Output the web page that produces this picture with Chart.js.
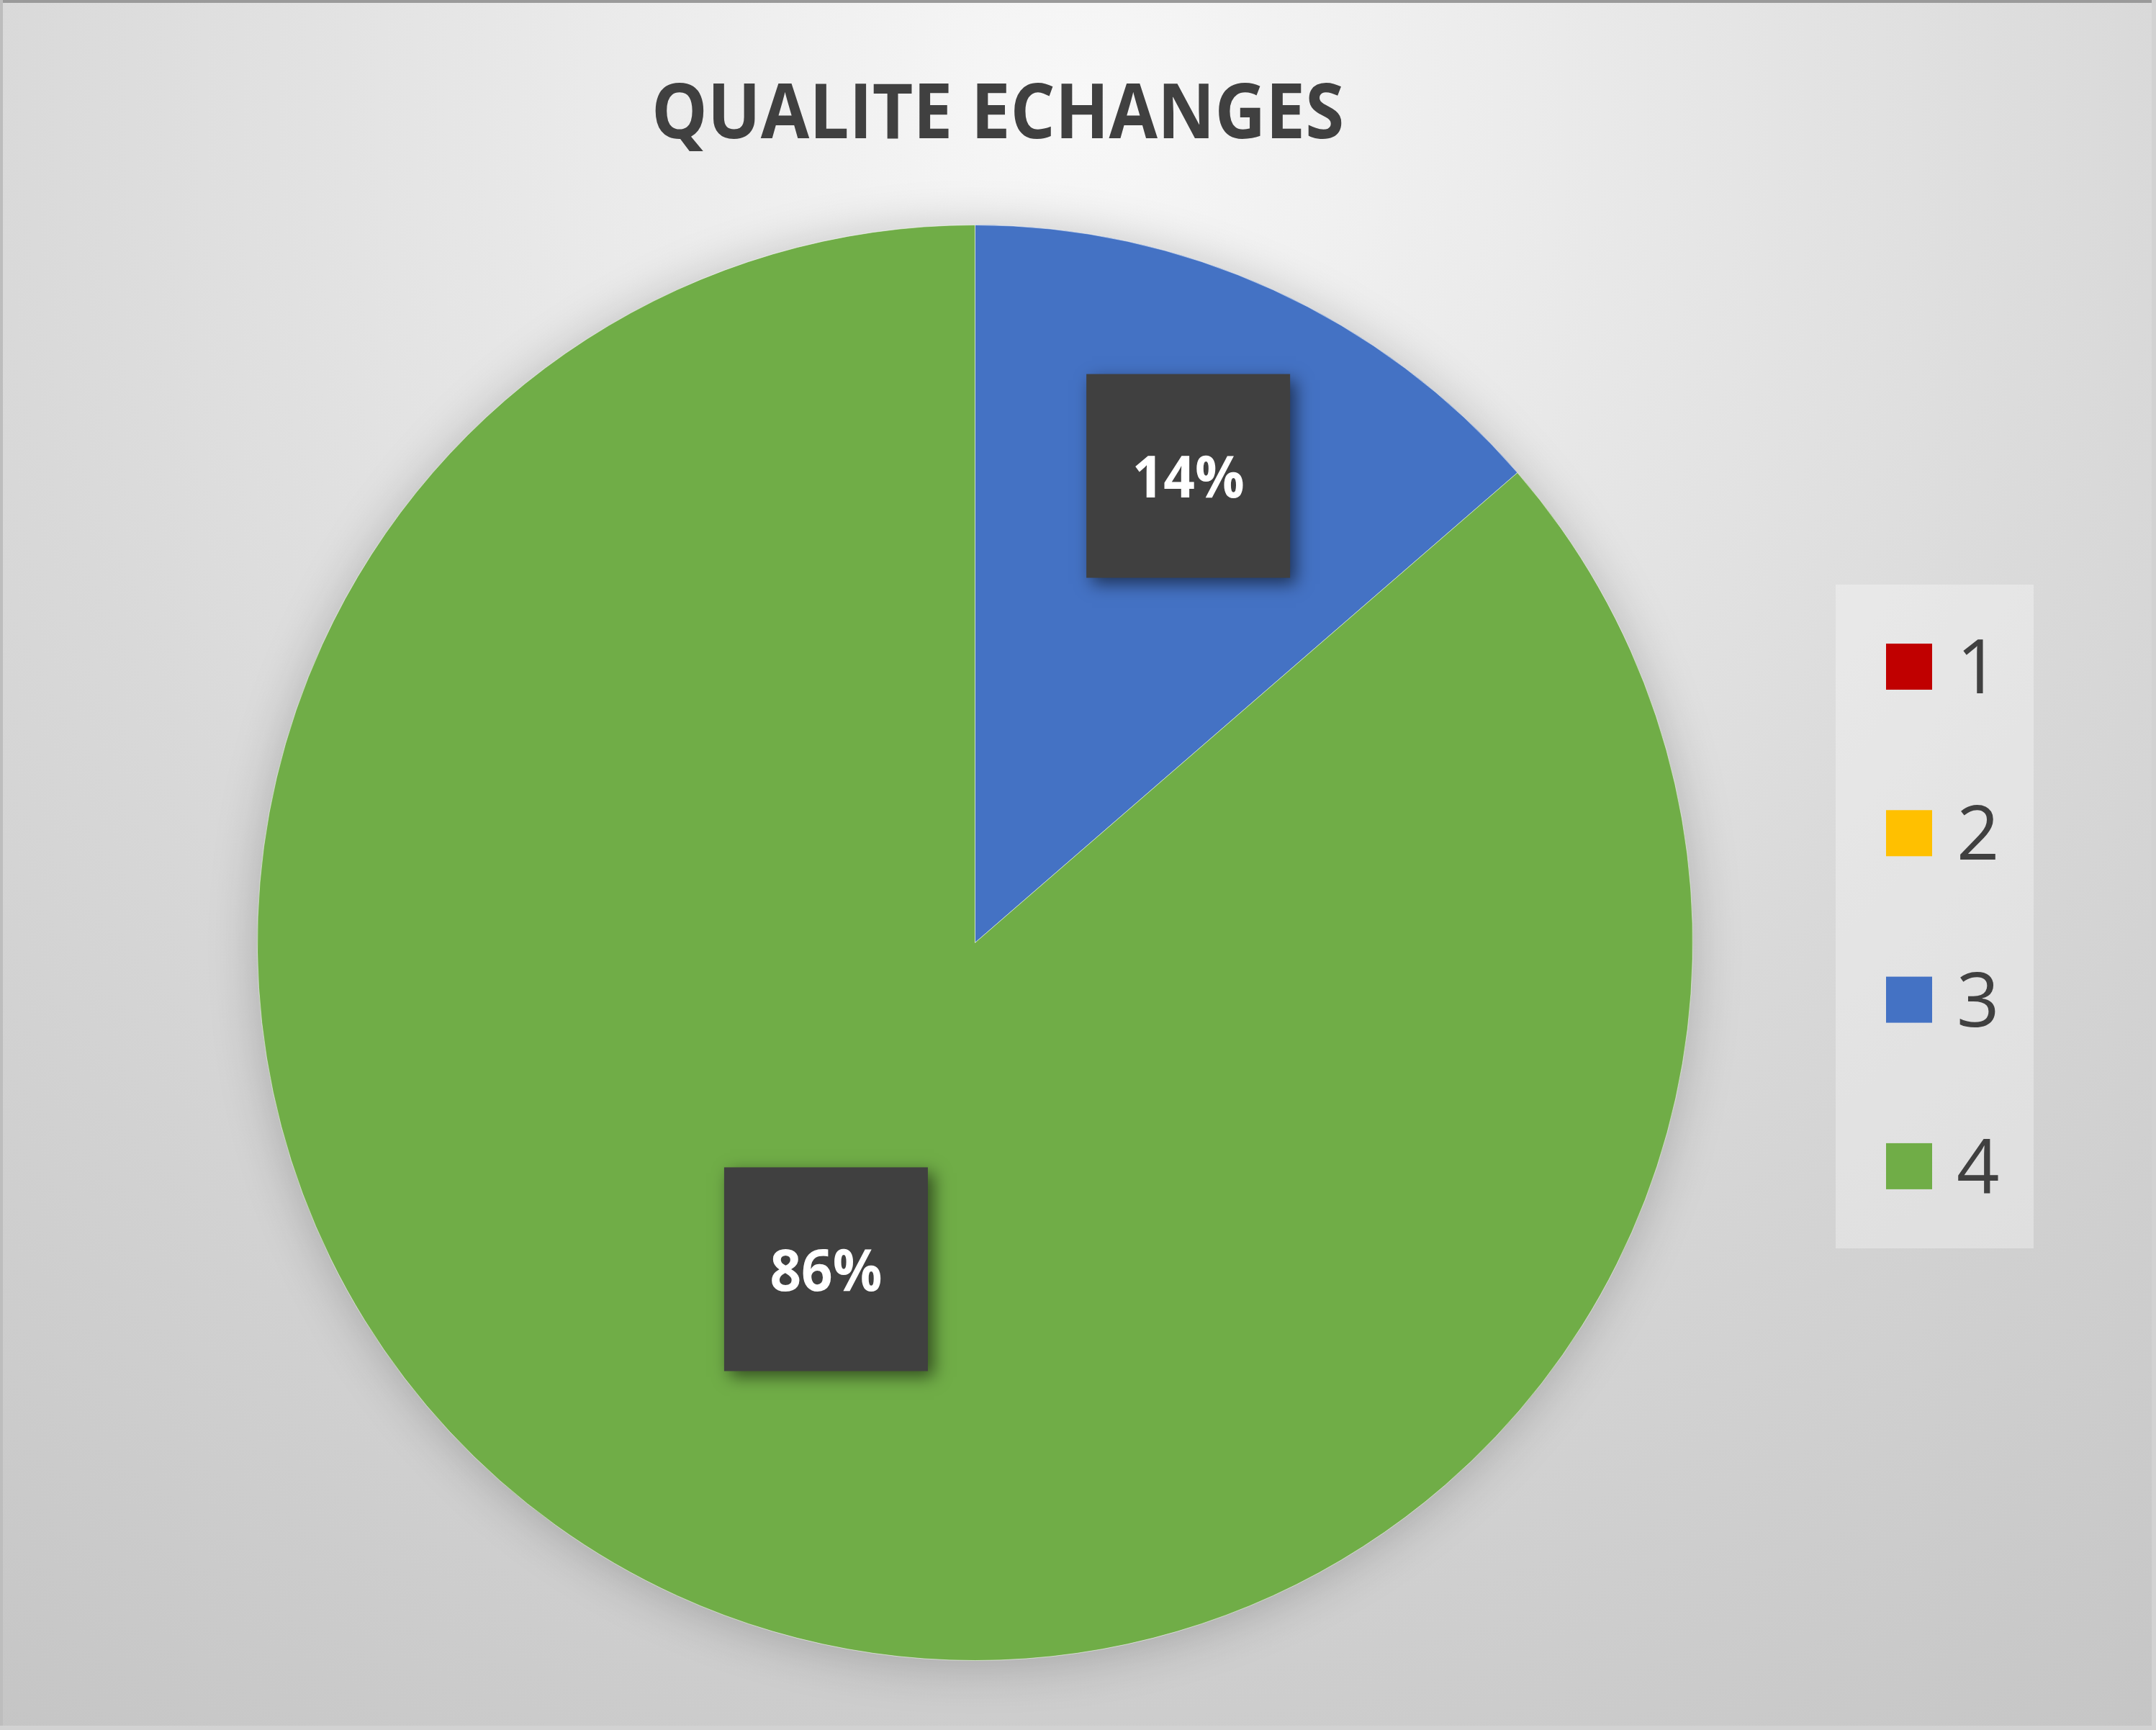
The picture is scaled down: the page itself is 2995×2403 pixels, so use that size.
<!DOCTYPE html>
<html>
<head>
<meta charset="utf-8">
<script src="https://cdn.jsdelivr.net/npm/chart.js@4/dist/chart.umd.min.js"></script>
<style>
  html, body { margin: 0; padding: 0; background: #d8d8d8; }
  canvas { display: block; }
</style>
</head>
<body>
<canvas id="c" width="2995" height="2403"></canvas>
<script>
// ---- Data ----
const chartTitle = 'QUALITE ECHANGES';
const categories = ['1', '2', '3', '4'];
const counts = [0, 0, 3, 19];
const sliceColors = ['#C00000', '#FFC000', '#4472C4', '#70AD47'];

// ---- Style constants ----
const labelRadiusFrac = [0.6, 0.6, 0.715, 0.5];
const textColor = '#404040';
const boldFont = '"Open Sans", Lato, sans-serif';

const bgPlugin = {
  id: 'bg',
  beforeDraw(chart) {
    const ctx = chart.ctx, W = chart.width, H = chart.height;
    ctx.save();
    const g = ctx.createRadialGradient(1497, 150, 0, 1497, 150, 2900);
    g.addColorStop(0, '#f8f8f8');
    g.addColorStop(0.52, '#d9d9d9');
    g.addColorStop(1, '#c2c2c2');
    ctx.fillStyle = g;
    ctx.fillRect(0, 0, W, H);
    ctx.fillStyle = '#9a9a9a';
    ctx.fillRect(0, 0, W, 4);
    ctx.fillStyle = '#bdbdbd';
    ctx.fillRect(0, 0, 4, H);
    ctx.fillStyle = '#d2d2d2';
    ctx.fillRect(W - 6, 0, 6, H);
    ctx.fillRect(0, H - 6, W, 6);
    ctx.restore();
  },
  beforeDatasetsDraw(chart) {
    const meta = chart.getDatasetMeta(0);
    const a = meta.data[0];
    if (!a) return;
    const ctx = chart.ctx;
    ctx.save();
    ctx.shadowColor = 'rgba(0,0,0,0.22)';
    ctx.shadowBlur = 70;
    ctx.shadowOffsetX = 0;
    ctx.shadowOffsetY = 6;
    ctx.fillStyle = '#70AD47';
    ctx.beginPath();
    ctx.arc(a.x, a.y, a.outerRadius - 2, 0, Math.PI * 2);
    ctx.fill();
    ctx.restore();
  },
  afterDatasetsDraw(chart) {
    const ctx = chart.ctx;
    const meta = chart.getDatasetMeta(0);
    const vals = chart.data.datasets[0].data;
    const total = vals.reduce((s, v) => s + v, 0);
    meta.data.forEach((arc, i) => {
      const v = vals[i];
      if (!v) return;
      const mid = (arc.startAngle + arc.endAngle) / 2;
      const r = arc.outerRadius * labelRadiusFrac[i];
      const cx = arc.x + Math.cos(mid) * r;
      const cy = arc.y + Math.sin(mid) * r;
      const bw = 283, bh = 283;
      ctx.save();
      ctx.shadowColor = 'rgba(0,0,0,0.55)';
      ctx.shadowBlur = 22;
      ctx.shadowOffsetX = 8;
      ctx.shadowOffsetY = 8;
      ctx.fillStyle = '#404040';
      ctx.fillRect(cx - bw / 2, cy - bh / 2, bw, bh);
      ctx.restore();
      ctx.save();
      ctx.fillStyle = '#ffffff';
      ctx.font = 'bold 80px ' + boldFont;
      ctx.textAlign = 'center';
      ctx.textBaseline = 'alphabetic';
      ctx.fillText(Math.round(v / total * 100) + '%', cx, cy + 30, 156);
      ctx.restore();
    });
  },
  afterDraw(chart) {
    const ctx = chart.ctx;
    ctx.save();
    ctx.fillStyle = textColor;
    ctx.font = 'bold 106px ' + boldFont;
    ctx.textAlign = 'center';
    ctx.textBaseline = 'alphabetic';
    ctx.fillText(chartTitle, 1386, 192, 962);
    ctx.restore();
    const ds = chart.data.datasets[0];
    ctx.save();
    ctx.fillStyle = 'rgba(255,255,255,0.32)';
    ctx.fillRect(2550, 812, 275, 922);
    chart.data.labels.forEach((lab, i) => {
      const cy = 926 + i * 231.3;
      ctx.fillStyle = ds.backgroundColor[i];
      ctx.fillRect(2620, cy - 32, 64, 64);
      ctx.fillStyle = textColor;
      ctx.font = '104px "Open Sans", Lato, sans-serif';
      ctx.textAlign = 'left';
      ctx.textBaseline = 'alphabetic';
      ctx.fillText(lab, 2718, cy + 37);
    });
    ctx.restore();
  }
};

new Chart(document.getElementById('c'), {
  type: 'pie',
  data: {
    labels: categories,
    datasets: [{
      data: counts,
      backgroundColor: sliceColors,
      borderColor: 'rgba(255,255,255,0.55)',
      borderWidth: 1
    }]
  },
  options: {
    responsive: false,
    devicePixelRatio: 1,
    animation: false,
    layout: { padding: { left: 357, top: 312, right: 643, bottom: 96 } },
    plugins: {
      legend: { display: false },
      title: { display: false },
      tooltip: { enabled: false }
    }
  },
  plugins: [bgPlugin]
});
</script>
</body>
</html>
